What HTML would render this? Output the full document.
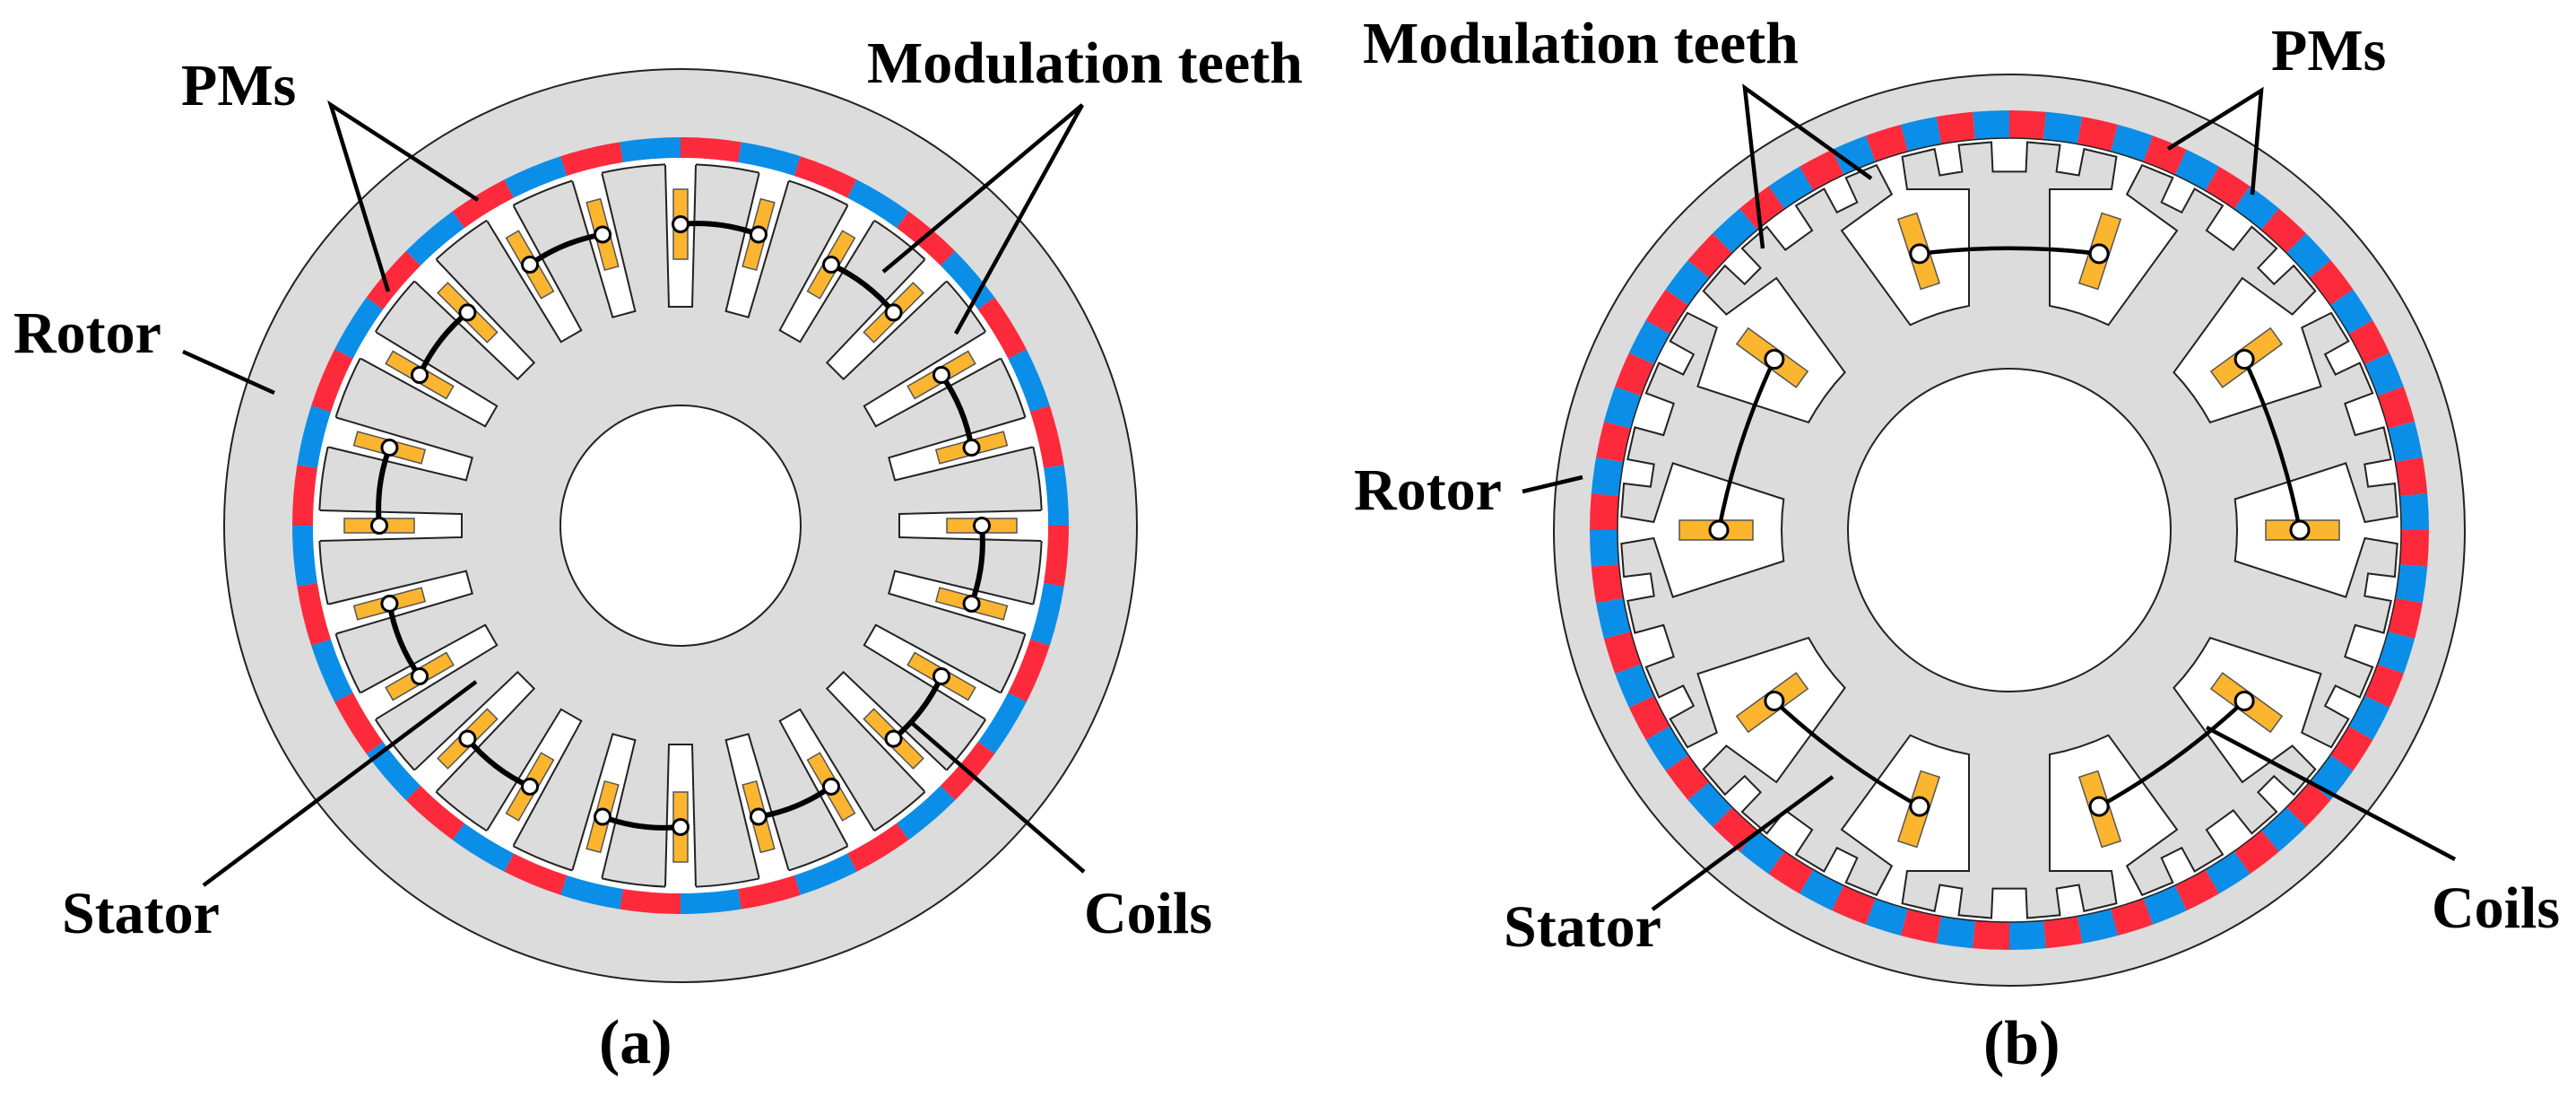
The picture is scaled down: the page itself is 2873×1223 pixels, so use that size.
<!DOCTYPE html>
<html><head><meta charset="utf-8">
<style>
html,body{margin:0;padding:0;background:#fff;}
svg{display:block;}
text{font-family:"Liberation Serif",serif;font-weight:bold;font-size:66px;fill:#000;}
</style></head>
<body>
<svg id="s" width="2873" height="1223" viewBox="0 0 2873 1223" xmlns="http://www.w3.org/2000/svg">
<g id="ga"></g>
<g id="gb"></g>
<g id="labels" stroke="#000" stroke-width="4.5" fill="none">
  <polyline points="433,325 369,117 533,223"/>
  <polyline points="985,303 1207,117 1066,372"/>
  <line x1="204" y1="392" x2="306" y2="438"/>
  <line x1="227" y1="987" x2="531" y2="760"/>
  <line x1="1209" y1="972" x2="1017" y2="806"/>
  <polyline points="1966,277 1946,98 2087,199"/>
  <polyline points="2418,166 2522,101 2512,217"/>
  <line x1="1698" y1="548" x2="1765" y2="532"/>
  <line x1="1843" y1="1014" x2="2044" y2="866"/>
  <line x1="2738" y1="958" x2="2461" y2="811"/>
</g>
<text x="202" y="117">PMs</text>
<text x="967" y="92">Modulation teeth</text>
<text x="15" y="393">Rotor</text>
<text x="69" y="1040">Stator</text>
<text x="1209" y="1040">Coils</text>
<text x="668" y="1185" style="font-size:70px">(a)</text>
<text x="1520" y="70">Modulation teeth</text>
<text x="2533" y="78">PMs</text>
<text x="1510" y="568">Rotor</text>
<text x="1677" y="1055">Stator</text>
<text x="2712" y="1034">Coils</text>
<text x="2212" y="1186" style="font-size:70px">(b)</text>
</svg>
<script>
var NS="http://www.w3.org/2000/svg";
var GREY="#dcdcdc",RED="#fd2a3c",BLUE="#0a8ee8",OR="#fcb52e",LINE="#222";
function el(p,t,a){var e=document.createElementNS(NS,t);for(var k in a)e.setAttribute(k,a[k]);p.appendChild(e);return e;}
function P(cx,cy,r,d){var a=d*Math.PI/180;return [cx+r*Math.sin(a),cy-r*Math.cos(a)];}
function L(cx,cy,th,x,y){var a=th*Math.PI/180;return [cx+y*Math.sin(a)+x*Math.cos(a),cy-y*Math.cos(a)+x*Math.sin(a)];}
function sector(cx,cy,r1,r2,a1,a2){var p1=P(cx,cy,r2,a1),p2=P(cx,cy,r2,a2),p3=P(cx,cy,r1,a2),p4=P(cx,cy,r1,a1);
return "M"+p1+" A"+r2+","+r2+" 0 0 1 "+p2+" L"+p3+" A"+r1+","+r1+" 0 0 0 "+p4+"Z";}
function pts(a){return a.map(function(p){return p[0].toFixed(1)+","+p[1].toFixed(1);}).join(" ");}
function coil(g,cx,cy,th,r,w,l){var c=P(cx,cy,r,th);
el(g,"rect",{x:-w/2,y:-l/2,width:w,height:l,fill:OR,stroke:"#555","stroke-width":1.5,transform:"translate("+c[0].toFixed(1)+","+c[1].toFixed(1)+") rotate("+th+")"});}
function dot(g,c,r){el(g,"circle",{cx:c[0],cy:c[1],r:r,fill:"#fff",stroke:"#000","stroke-width":3});}
function conn(g,a,b,cx,cy,k,w){var mx=(a[0]+b[0])/2,my=(a[1]+b[1])/2;var qx=cx+(mx-cx)*k,qy=cy+(my-cy)*k;
el(g,"path",{d:"M"+a+" Q"+qx+","+qy+" "+b,fill:"none",stroke:"#000","stroke-width":w});}

/* ---------- (a) ---------- */
(function(){
var g=document.getElementById("ga"),cx=759,cy=586;
el(g,"circle",{cx:cx,cy:cy,r:509,fill:GREY,stroke:LINE,"stroke-width":2});
for(var i=0;i<40;i++)el(g,"path",{d:sector(cx,cy,410,433,9*i,9*i+9),fill:i%2==0?RED:BLUE,stroke:"none"});
el(g,"circle",{cx:cx,cy:cy,r:410,fill:"#fff",stroke:"none"});
el(g,"circle",{cx:cx,cy:cy,r:403,fill:GREY,stroke:LINE,"stroke-width":2});
for(var k=0;k<24;k++){var th=15*k;
 var q=[L(cx,cy,th,-13,244),L(cx,cy,th,13,244),L(cx,cy,th,17,406),L(cx,cy,th,-17,406)];
 el(g,"polygon",{points:pts(q),fill:"#fff",stroke:"none"});
 el(g,"polyline",{points:pts([L(cx,cy,th,-17,402),L(cx,cy,th,-13,244),L(cx,cy,th,13,244),L(cx,cy,th,17,402)]),fill:"none",stroke:LINE,"stroke-width":2});
}
el(g,"circle",{cx:cx,cy:cy,r:134,fill:"#fff",stroke:LINE,"stroke-width":2});
for(var k=0;k<24;k++)coil(g,cx,cy,15*k,336,16,78);
for(var k=0;k<12;k++){var a=P(cx,cy,336,30*k),b=P(cx,cy,336,30*k+15);
 conn(g,a,b,cx,cy,1.03,6);dot(g,a,8.5);dot(g,b,8.5);}
})();

/* ---------- (b) ---------- */
(function(){
var g=document.getElementById("gb"),cx=2241,cy=591;
el(g,"circle",{cx:cx,cy:cy,r:508,fill:GREY,stroke:LINE,"stroke-width":2});
for(var i=0;i<72;i++)el(g,"path",{d:sector(cx,cy,437,468,5*i,5*i+5),fill:i%2==0?RED:BLUE,stroke:"none"});
el(g,"circle",{cx:cx,cy:cy,r:437,fill:"#fff",stroke:LINE,"stroke-width":1.5});
var all=[];
for(var t=0;t<10;t++){var th=36*t;
 function pp(d,r){return P(cx,cy,r,th+d);}
 function ll(x,y){return L(cx,cy,th,x,y);}
 all.push(pp(-18,254),pp(-14,254),ll(-45,250),ll(-45,380),ll(-114,380),pp(-16,433));
 all.push(pp(-11.1,433),pp(-11.1,403),pp(-7.5,403),pp(-7.5,433));
 all.push(pp(-2.65,433),pp(-2.65,400),pp(2.65,400),pp(2.65,433));
 all.push(pp(7.5,433),pp(7.5,403),pp(11.1,403),pp(11.1,433));
 all.push(pp(16,433),ll(114,380),ll(45,380),ll(45,250),pp(14,254));
}
el(g,"polygon",{points:pts(all),fill:GREY,stroke:LINE,"stroke-width":2});
el(g,"circle",{cx:cx,cy:cy,r:180,fill:"#fff",stroke:LINE,"stroke-width":2});
for(var t=0;t<10;t++)coil(g,cx,cy,36*t+18,327,22,82);
var pairs=[[-18,18],[54,90],[-54,-90],[126,162],[-126,-162]];
pairs.forEach(function(p){var a=P(cx,cy,324,p[0]),b=P(cx,cy,324,p[1]);
 conn(g,a,b,cx,cy,1.04,4.5);dot(g,a,10);dot(g,b,10);});
})();
</script>
</body></html>
